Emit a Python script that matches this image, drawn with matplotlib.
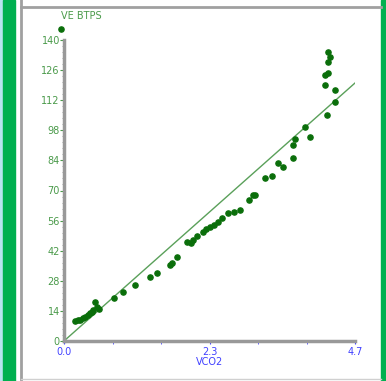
import matplotlib
matplotlib.use("Agg")
import matplotlib.pyplot as plt
from matplotlib.ticker import MultipleLocator, FixedLocator
from matplotlib.patches import Rectangle
from matplotlib.lines import Line2D

# VCO2 vs VE BTPS
vco2 = [0.18, 0.22, 0.26, 0.30, 0.34, 0.38, 0.42, 0.45, 0.47, 0.50, 0.53, 0.56,
        0.80, 0.96, 1.15, 1.39, 1.50, 1.71, 1.74, 1.82, 1.98, 2.05, 2.09, 2.15,
        2.25, 2.30, 2.36, 2.42, 2.49, 2.55, 2.65, 2.75, 2.84, 2.98, 3.06, 3.09,
        3.25, 3.36, 3.46, 3.54, 3.70, 3.70, 3.73, 3.89, 3.97, 4.24, 4.38, 4.38,
        4.22, 4.27, 4.22, 4.27, 4.27, 4.30]
ve = [9.4, 9.8, 10.0, 10.6, 11.3, 12.0, 12.9, 13.5, 14.4, 18.3, 16.0, 15.0,
      19.8, 22.9, 26.0, 29.9, 31.5, 35.3, 36.1, 39.2, 46.2, 45.5, 47.0, 48.8,
      50.8, 52.0, 53.2, 54.0, 55.5, 57.0, 59.4, 60.0, 60.9, 65.6, 67.9, 67.9,
      75.7, 76.7, 82.6, 81.0, 85.0, 91.0, 93.8, 99.4, 95.0, 105.0, 111.3, 116.7,
      119.0, 124.5, 123.7, 130.0, 134.6, 132.0]
line_x = [0.0, 4.7]
line_y = [0.0, 120.0]
y_ticks = [0, 14, 28, 42, 56, 70, 84, 98, 112, 126, 140]
x_ticks = [0.0, 2.35, 4.7]
x_labels = ["0.0", "2.3", "4.7"]

green = "#0a6e0a"
ylab = "#4a9a4a"
blue = "#4040ff"

fig = plt.figure(figsize=(3.86, 3.81), dpi=100)
fig.patch.set_facecolor("white")

# window frame
fig.add_artist(Rectangle((0, 0), 3 / 386, 1, transform=fig.transFigure, color="#b8e4f0", zorder=0))
fig.add_artist(Rectangle((3 / 386, 0), 12 / 386, 1, transform=fig.transFigure, color="#00b050", zorder=0))
fig.add_artist(Rectangle((381 / 386, 0), 5 / 386, 1, transform=fig.transFigure, color="#00b050", zorder=0))
fig.add_artist(Line2D([21 / 386, 21 / 386], [0, 1], transform=fig.transFigure, color="#a0a0a0", lw=2))
fig.add_artist(Line2D([21 / 386, 381 / 386], [1 - 7 / 381, 1 - 7 / 381], transform=fig.transFigure, color="#a0a0a0", lw=2))
fig.add_artist(Line2D([21 / 386, 381 / 386], [1 - 379 / 381, 1 - 379 / 381], transform=fig.transFigure, color="#d0d0d0", lw=1))

ax = fig.add_axes([64 / 386, 1 - 341 / 381, 291 / 386, 301 / 381])
ax.plot(line_x, line_y, color="#5aa05a", lw=1)
ax.scatter(vco2, ve, s=14, color=green, zorder=3)
ax.scatter([-0.05], [145], s=14, color=green, clip_on=False, zorder=3)

ax.set_xlim(0, 4.7)
ax.set_ylim(0, 140)
for s in ["top", "right"]:
    ax.spines[s].set_visible(False)
for s in ["left", "bottom"]:
    ax.spines[s].set_color("#999999")
    ax.spines[s].set_linewidth(2.5)

ax.yaxis.set_major_locator(FixedLocator(y_ticks))
ax.yaxis.set_minor_locator(MultipleLocator(2.8))
ax.set_yticklabels([str(v) for v in y_ticks])
ax.tick_params(axis="y", which="major", length=3, color=ylab, labelcolor=ylab, labelsize=7, pad=0)
ax.tick_params(axis="y", which="minor", length=1.5, color="#999999")

ax.xaxis.set_major_locator(FixedLocator(x_ticks))
ax.xaxis.set_minor_locator(MultipleLocator(4.7 / 6))
ax.set_xticklabels(x_labels)
ax.tick_params(axis="x", which="major", length=2, color=blue, labelcolor=blue, labelsize=7, pad=2)
ax.tick_params(axis="x", which="minor", length=2, color=blue)

ax.set_xlabel("VCO2", color=blue, fontsize=7, labelpad=0)
fig.text(61 / 386, 1 - 16 / 381, "VE BTPS", color=ylab, fontsize=7, ha="left", va="center")

fig.savefig("out.png", dpi=100)
